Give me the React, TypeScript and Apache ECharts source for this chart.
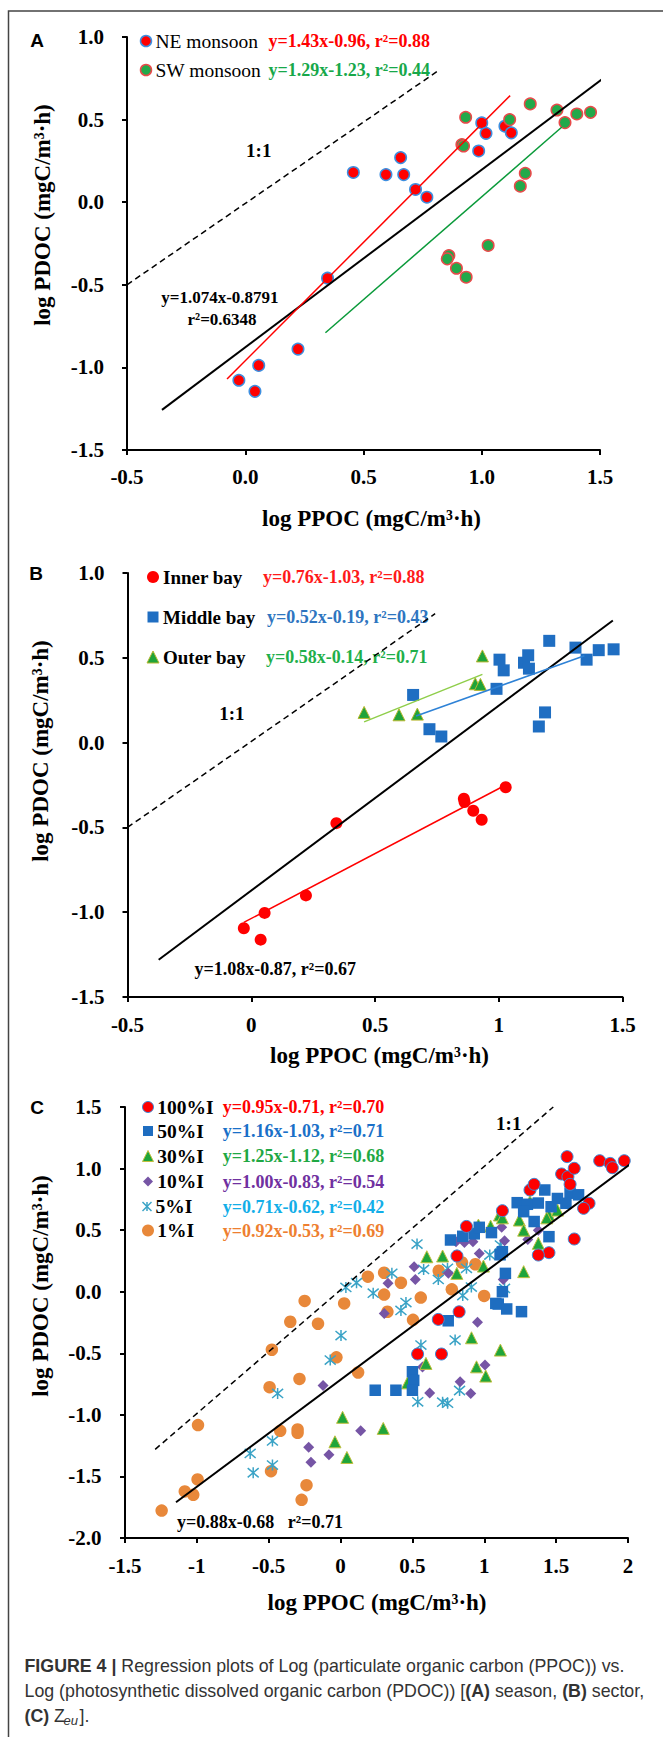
import React, { useEffect, useRef } from "react";
import * as echarts from "echarts";

const W = 663;
const H = 1737;
const SERIF = '"Liberation Serif", "Times New Roman", serif';
const SANS = '"Liberation Sans", Arial, sans-serif';

// ---------- Panel A (season) ----------
const neMonsoon = [
  [0.457, 0.18], [0.595, 0.167], [0.657, 0.27], [0.67, 0.167], [0.72, 0.077], [0.768, 0.03],
  [0.987, 0.31], [1.0, 0.48], [1.018, 0.417], [1.098, 0.46], [1.125, 0.42], [0.348, -0.46],
  [0.223, -0.889], [0.057, -0.988], [-0.027, -1.078], [0.041, -1.145],
];
const swMonsoon = [
  [0.932, 0.514], [0.916, 0.349], [0.923, 0.34], [1.118, 0.5], [1.205, 0.595], [1.318, 0.558],
  [1.352, 0.482], [1.402, 0.534], [1.46, 0.544], [1.184, 0.175], [1.163, 0.097], [1.027, -0.262],
  [0.861, -0.323], [0.854, -0.343], [0.893, -0.4], [0.934, -0.454],
];
const lineAAll = [[-0.352, -1.257], [1.566, 0.806]];
const lineANE = [[-0.077, -1.07], [1.12, 0.645]];
const lineASW = [[0.339, -0.79], [1.339, 0.455]];
const lineA11 = [[-0.5, -0.5], [0.81, 0.79]];

// ---------- Panel B (sector) ----------
const innerBay = [
  [0.344, -0.475], [1.028, -0.263], [0.859, -0.331], [0.862, -0.35], [0.897, -0.402],
  [0.931, -0.455], [0.221, -0.901], [0.054, -1.004], [-0.03, -1.095], [0.038, -1.162],
];
const middleBay = [
  [0.654, 0.281], [0.72, 0.079], [0.768, 0.036], [0.991, 0.317], [1.003, 0.489], [1.02, 0.426],
  [1.102, 0.471], [1.119, 0.515], [1.122, 0.436], [1.204, 0.6], [1.187, 0.178], [1.162, 0.095],
  [1.31, 0.56], [1.355, 0.489], [1.404, 0.545], [1.464, 0.55],
];
const outerBay = [
  [0.456, 0.178], [0.597, 0.164], [0.671, 0.168], [0.934, 0.511], [0.905, 0.347], [0.926, 0.343],
];
const lineBAll = [[-0.374, -1.28], [1.461, 0.72]];
const lineBInner = [[-0.03, -1.06], [1.028, -0.25]];
const lineBMiddle = [[0.666, 0.157], [1.346, 0.512]];
const lineBOuter = [[0.456, 0.122], [0.934, 0.402]];
const lineB11 = [[-0.5, -0.5], [0.743, 0.76]];

// ---------- Panel C (Zeu) ----------
const pct100 = [
  [0.876, 0.53], [1.126, 0.658], [1.318, 0.826], [1.347, 0.872], [1.576, 1.097], [1.538, 0.956],
  [1.582, 0.934], [1.626, 1.002], [1.597, 0.872], [1.803, 1.064], [1.876, 1.042], [1.891, 1.007],
  [1.974, 1.064], [1.729, 0.718], [1.691, 0.677], [1.626, 0.428], [1.45, 0.317], [1.376, 0.298],
  [0.81, 0.29], [0.825, -0.163], [0.68, -0.225], [0.536, -0.506], [0.702, -0.506],
];
const pct50 = [
  [0.765, 0.42], [0.85, 0.45], [0.93, 0.47], [0.965, 0.523], [1.05, 0.48], [1.126, 0.325],
  [1.11, 0.3], [1.147, 0.149], [1.126, 0.0], [1.097, -0.1], [1.156, -0.14], [1.259, -0.162],
  [1.08, -0.095], [0.749, -0.236], [0.5, -0.65], [0.509, -0.72], [0.5, -0.8], [0.241, -0.8],
  [0.385, -0.8], [1.229, 0.723], [1.3, 0.71], [1.421, 0.826], [1.509, 0.757], [1.597, 0.8],
  [1.656, 0.787], [1.568, 0.718], [1.465, 0.69], [1.45, 0.447], [1.347, 0.57], [1.274, 0.65],
  [1.376, 0.72],
];
const pct30 = [
  [1.318, 0.731], [1.106, 0.623], [1.126, 0.6], [1.244, 0.582], [1.274, 0.5], [1.45, 0.623],
  [1.509, 0.663], [1.435, 0.6], [1.376, 0.393], [0.959, 0.541], [1.044, 0.533], [0.6, 0.284],
  [0.71, 0.29], [0.809, 0.149], [0.994, 0.208], [1.274, 0.163], [1.112, -0.474], [0.911, -0.374],
  [0.946, -0.61], [1.01, -0.685], [0.594, -0.582], [0.466, -0.74], [0.014, -1.02], [0.297, -1.11],
  [-0.039, -1.219], [0.044, -1.346],
];
const pct10 = [
  [1.121, 0.523], [1.141, 0.414], [1.303, 0.425], [1.376, 0.5], [0.803, 0.406], [0.862, 0.4],
  [0.921, 0.405], [0.81, 0.3], [0.965, 0.311], [0.512, 0.203], [0.52, 0.1], [0.33, 0.068],
  [0.75, 0.149], [1.132, 0.1], [0.304, -0.176], [0.953, -0.248], [0.57, -0.612], [1.005, -0.596],
  [0.832, -0.731], [0.906, -0.826], [0.62, -0.823], [-0.122, -0.761], [0.14, -1.129],
  [-0.222, -1.264], [-0.206, -1.385], [-0.081, -1.324],
];
const pct5 = [
  [0.532, 0.387], [0.578, 0.181], [0.744, 0.19], [0.876, 0.19], [0.68, 0.1], [1.038, 0.298],
  [1.112, 0.379], [0.91, 0.038], [1.141, 0.027], [0.85, -0.031], [0.357, 0.149], [0.111, 0.073],
  [0.037, 0.035], [0.227, -0.012], [0.455, -0.088], [0.42, -0.152], [0.003, -0.356], [-0.072, -0.555],
  [0.559, -0.433], [0.797, -0.393], [0.537, -0.894], [0.71, -0.897], [0.745, -0.905], [0.828, -0.802],
  [-0.438, -0.826], [-0.474, -1.212], [-0.629, -1.313], [-0.608, -1.47], [-0.474, -1.408],
];
const pct1 = [
  [-0.992, -1.083], [-0.25, -0.075], [-0.35, -0.244], [-0.157, -0.26], [0.025, -0.095],
  [-0.478, -0.471], [-0.029, -0.533], [-0.286, -0.708], [-0.494, -0.775], [0.122, -0.656],
  [-0.42, -1.13], [-0.299, -1.118], [-0.299, -1.146], [0.19, 0.122], [0.303, 0.154], [0.303, -0.023],
  [0.42, 0.073], [0.326, -0.163], [0.504, -0.228], [0.558, -0.048], [0.683, 0.17], [0.774, 0.019],
  [0.845, 0.237], [0.938, 0.223], [0.999, -0.034], [-1.245, -1.777], [-1.084, -1.622],
  [-1.025, -1.649], [-0.995, -1.524], [-0.484, -1.457], [-0.237, -1.571], [-0.271, -1.69],
];
const lineCAll = [[-1.145, -1.71], [2.03, 1.05]];
const lineC11 = [[-1.29, -1.28], [1.48, 1.5]];

// ---------- legends / labels ----------
const legendA = [
  { name: "NE monsoon", eq: "y=1.43x-0.96, r²=0.88", eqColor: "#ff0000" },
  { name: "SW monsoon", eq: "y=1.29x-1.23, r²=0.44", eqColor: "#17a84a" },
];
const legendB = [
  { name: "Inner bay", eq: "y=0.76x-1.03, r²=0.88", eqColor: "#ff1a1a" },
  { name: "Middle bay", eq: "y=0.52x-0.19, r²=0.43", eqColor: "#2e75c0" },
  { name: "Outer bay", eq: "y=0.58x-0.14, r²=0.71", eqColor: "#1faf4a" },
];
const legendC = [
  { name: "100%I", eq: "y=0.95x-0.71, r²=0.70", eqColor: "#ff0000" },
  { name: "50%I", eq: "y=1.16x-1.03, r²=0.71", eqColor: "#1a70c8" },
  { name: "30%I", eq: "y=1.25x-1.12, r²=0.68", eqColor: "#1fa844" },
  { name: "10%I", eq: "y=1.00x-0.83, r²=0.54", eqColor: "#7030a0" },
  { name: "5%I", eq: "y=0.71x-0.62, r²=0.42", eqColor: "#12aee8" },
  { name: "1%I", eq: "y=0.92x-0.53, r²=0.69", eqColor: "#ee7f30" },
];
const axisTitleX = "log PPOC (mgC/m³·h)";
const axisTitleY = "log PDOC (mgC/m³·h)";

// grid geometry
const GA = { left: 127, top: 37, width: 473, height: 413, xMin: -0.5, xMax: 1.5, yMin: -1.5, yMax: 1.0 };
const GB = { left: 127.5, top: 573, width: 495, height: 424, xMin: -0.5, xMax: 1.5, yMin: -1.5, yMax: 1.0 };
const GC = { left: 125, top: 1107, width: 503, height: 431, xMin: -1.5, xMax: 2.0, yMin: -2.0, yMax: 1.5 };

function toPx(g: any, x: number, y: number) {
  return [
    g.left + ((x - g.xMin) / (g.xMax - g.xMin)) * g.width,
    g.top + ((g.yMax - y) / (g.yMax - g.yMin)) * g.height,
  ];
}

const fmt1 = (v: number) => (Math.round(v * 10) / 10).toFixed(1);
const fmtN = (v: number) => String(Math.round(v * 10) / 10);

function axisOf(g: any, gi: number, isX: boolean, formatter: any, margin: number) {
  return {
    type: "value", gridIndex: gi,
    min: isX ? g.xMin : g.yMin, max: isX ? g.xMax : g.yMax, interval: 0.5,
    axisLine: { show: true, onZero: false, lineStyle: { color: "#000", width: 2 } },
    axisTick: { show: true, inside: false, length: 5, lineStyle: { color: "#000", width: 2 } },
    splitLine: { show: false },
    axisLabel: { color: "#000", fontFamily: SERIF, fontWeight: "bold", fontSize: 21, margin, formatter },
  };
}

function sc(data: any, gi: number, symbol: string, size: number, color: string, border?: string, bw?: number) {
  return {
    type: "scatter", xAxisIndex: gi, yAxisIndex: gi, data, symbol, symbolSize: size, silent: true,
    itemStyle: { color, borderColor: border || color, borderWidth: bw || 0, opacity: 1 },
  };
}
function ln(data: any, gi: number, color: string, width: number, type: any = "solid") {
  return {
    type: "line", xAxisIndex: gi, yAxisIndex: gi, data, symbol: "none", silent: true, clip: false,
    lineStyle: { color, width, type },
  };
}

function T(x: number, y: number, text: string, size: number, color = "#000", weight = "bold", align = "center", family = SERIF, extra: any = {}) {
  return {
    type: "text", x, y, silent: true, ...extra,
    style: {
      text, fill: color, fontSize: size, fontWeight: weight, fontFamily: family,
      align, verticalAlign: "middle", textAlign: align, textVerticalAlign: "middle",
    },
  };
}
const circ = (cx: number, cy: number, r: number, fill: string, stroke?: string, lw = 1.5) => ({
  type: "circle", silent: true, shape: { cx, cy, r }, style: { fill, stroke: stroke || fill, lineWidth: stroke ? lw : 0 },
});
const sq = (cx: number, cy: number, s: number, fill: string) => ({
  type: "rect", silent: true, shape: { x: cx - s / 2, y: cy - s / 2, width: s, height: s }, style: { fill },
});
const tri = (cx: number, cy: number, s: number, fill: string, stroke: string) => ({
  type: "polygon", silent: true,
  shape: { points: [[cx, cy - s / 2], [cx + s / 2, cy + s / 2], [cx - s / 2, cy + s / 2]] },
  style: { fill, stroke, lineWidth: 1 },
});
const dia = (cx: number, cy: number, s: number, fill: string) => ({
  type: "polygon", silent: true,
  shape: { points: [[cx, cy - s / 2], [cx + s / 2, cy], [cx, cy + s / 2], [cx - s / 2, cy]] },
  style: { fill },
});
const ast = (cx: number, cy: number, s: number, color: string) => {
  const h = s / 2;
  const segs = [
    [cx - h, cy - h, cx + h, cy + h], [cx + h, cy - h, cx - h, cy + h], [cx, cy - h, cx, cy + h],
  ];
  return {
    type: "group", silent: true,
    children: segs.map((p) => ({
      type: "line", shape: { x1: p[0], y1: p[1], x2: p[2], y2: p[3] }, style: { stroke: color, lineWidth: 1.5 },
    })),
  };
};

const ASTERISK = "path://M0,0L10,10M10,0L0,10M5,-1L5,11";

export default function App() {
  const ref = useRef<HTMLDivElement>(null);
  useEffect(() => {
    document.body.style.margin = "0";
    const chart = echarts.init(ref.current!, null, { renderer: "svg", width: W, height: H });

    const graphic: any[] = [];
    // frame
    graphic.push({ type: "rect", silent: true, z: -10, shape: { x: 8.5, y: 11, width: 720, height: 1800 }, style: { fill: "none", stroke: "#444", lineWidth: 1.5 } });
    // panel letters
    graphic.push(T(37, 40, "A", 19, "#000", "bold", "center", SANS));
    graphic.push(T(36, 573, "B", 19, "#000", "bold", "center", SANS));
    graphic.push(T(37, 1107, "C", 19, "#000", "bold", "center", SANS));
    // axis titles
    graphic.push(T(42, 215, axisTitleY, 23, "#000", "bold", "center", SERIF, { rotation: Math.PI / 2 }));
    graphic.push(T(40, 751, axisTitleY, 23, "#000", "bold", "center", SERIF, { rotation: Math.PI / 2 }));
    graphic.push(T(40, 1286, axisTitleY, 23, "#000", "bold", "center", SERIF, { rotation: Math.PI / 2 }));
    graphic.push(T(371.5, 518, axisTitleX, 23));
    graphic.push(T(379.5, 1055, axisTitleX, 23));
    graphic.push(T(377, 1602, axisTitleX, 23));

    // Panel A legend
    const aRows = [41, 70];
    graphic.push(circ(146, aRows[0], 5.5, "#ff0000", "#3d8fe0"));
    graphic.push(circ(146, aRows[1], 5.5, "#22a94a", "#e84a4a"));
    legendA.forEach((l, i) => {
      graphic.push(T(155.5, aRows[i], l.name, 19.5, "#000", "normal", "left"));
      graphic.push(T(268.5, aRows[i], l.eq, 18, l.eqColor, "bold", "left"));
    });
    // Panel A annotations
    let p = toPx(GA, 0.057, 0.31);
    graphic.push(T(p[0], p[1], "1:1", 19));
    p = toPx(GA, -0.107, -0.575);
    graphic.push(T(p[0], p[1], "y=1.074x-0.8791", 17));
    p = toPx(GA, -0.098, -0.71);
    graphic.push(T(p[0], p[1], "r²=0.6348", 17));

    // Panel B legend
    const bRows = [577, 617, 657];
    const bEqX = [263, 267, 266];
    graphic.push(circ(153, bRows[0], 6, "#ff0000"));
    graphic.push(sq(153, bRows[1], 11, "#1f6ec2"));
    graphic.push(tri(153, bRows[2], 12, "#1fa33a", "#b8b830"));
    legendB.forEach((l, i) => {
      graphic.push(T(163, bRows[i], l.name, 19, "#000", "bold", "left"));
      graphic.push(T(bEqX[i], bRows[i], l.eq, 18, l.eqColor, "bold", "left"));
    });
    p = toPx(GB, -0.078, 0.172);
    graphic.push(T(p[0], p[1], "1:1", 19));
    p = toPx(GB, 0.097, -1.337);
    graphic.push(T(p[0], p[1], "y=1.08x-0.87, r²=0.67", 18));

    // Panel C legend
    const cRows = [1107, 1131, 1156, 1181.5, 1206.5, 1230.5];
    graphic.push(circ(148, cRows[0], 5.5, "#ff0000", "#3a8ad8", 1));
    graphic.push(sq(148, cRows[1], 10, "#1e6dc0"));
    graphic.push(tri(148, cRows[2], 11, "#1fa53a", "#c0c040"));
    graphic.push(dia(148, cRows[3], 10, "#7655a5"));
    graphic.push(ast(147, cRows[4], 9, "#3aa3c6"));
    graphic.push(circ(148, cRows[5], 6, "#e8883a"));
    legendC.forEach((l, i) => {
      graphic.push(T(i === 4 ? 155.5 : 157.3, cRows[i], l.name, 19.5, "#000", "bold", "left"));
      graphic.push(T(222.8, cRows[i], l.eq, 18, l.eqColor, "bold", "left"));
    });
    p = toPx(GC, 1.17, 1.37);
    graphic.push(T(p[0], p[1], "1:1", 19));
    p = toPx(GC, -1.138, -1.868);
    graphic.push(T(p[0], p[1], "y=0.88x-0.68   r²=0.71", 18, "#000", "bold", "left"));

    // caption
    const CAP = 17.8;
    const capStyle = (text: string, rich: any) => ({
      text, rich, fill: "#333", fontSize: CAP, fontFamily: SANS, align: "left", verticalAlign: "middle",
      textAlign: "left", textVerticalAlign: "middle",
    });
    const rich = {
      b: { fontWeight: "bold", fontSize: CAP, fontFamily: SANS, fill: "#333", color: "#333" },
      n: { fontWeight: "normal", fontSize: CAP, fontFamily: SANS, fill: "#333", color: "#333" },
    };
    graphic.push({ type: "text", x: 24.5, y: 1666, silent: true, style: capStyle("{b|FIGURE 4 |}{n| Regression plots of Log (particulate organic carbon (PPOC)) vs.}", rich) });
    graphic.push({ type: "text", x: 24.5, y: 1691, silent: true, style: capStyle("{n|Log (photosynthetic dissolved organic carbon (PDOC)) [}{b|(A)}{n| season, }{b|(B)}{n| sector,}", rich) });
    graphic.push({ type: "text", x: 24.5, y: 1716, silent: true, style: capStyle("{b|(C)}{n| Z}", rich) });
    graphic.push({ type: "text", x: 63.5, y: 1720, silent: true, style: { text: "eu", fill: "#333", fontSize: 13, fontStyle: "italic", fontFamily: SANS, align: "left", verticalAlign: "middle", textAlign: "left", textVerticalAlign: "middle" } });
    graphic.push({ type: "text", x: 79.5, y: 1716, silent: true, style: { text: "].", fill: "#333", fontSize: CAP, fontFamily: SANS, align: "left", verticalAlign: "middle", textAlign: "left", textVerticalAlign: "middle" } });

    const dashed = [6, 4];
    const option: any = {
      animation: false,
      backgroundColor: "#fff",
      grid: [
        { left: GA.left, top: GA.top, width: GA.width, height: GA.height },
        { left: GB.left, top: GB.top, width: GB.width, height: GB.height },
        { left: GC.left, top: GC.top, width: GC.width, height: GC.height },
      ],
      xAxis: [axisOf(GA, 0, true, fmt1, 16), axisOf(GB, 1, true, fmtN, 17), axisOf(GC, 2, true, fmtN, 17)],
      yAxis: [axisOf(GA, 0, false, fmt1, 23), axisOf(GB, 1, false, fmt1, 23), axisOf(GC, 2, false, fmt1, 23.5)],
      series: [
        // A
        sc(neMonsoon, 0, "circle", 11.5, "#ff0000", "#3d8fe0", 1.5),
        sc(swMonsoon, 0, "circle", 11.5, "#22a94a", "#e84a4a", 1.5),
        ln(lineA11, 0, "#000", 1.5, dashed),
        ln(lineAAll, 0, "#000", 2),
        ln(lineANE, 0, "#ff0000", 1.5),
        ln(lineASW, 0, "#0a9a3a", 1.5),
        // B
        sc(innerBay, 1, "circle", 12, "#ff0000"),
        sc(middleBay, 1, "rect", 12, "#1f6ec2"),
        sc(outerBay, 1, "triangle", 12, "#1fa33a", "#b8b830", 1),
        ln(lineB11, 1, "#000", 1.5, dashed),
        ln(lineBAll, 1, "#000", 2),
        ln(lineBInner, 1, "#ff0000", 1.5),
        ln(lineBMiddle, 1, "#2e82d6", 1.5),
        ln(lineBOuter, 1, "#8fce4a", 1.5),
        // C
        sc(pct1, 2, "circle", 12.5, "#e8883a"),
        sc(pct5, 2, ASTERISK, 11, "#3aa3c6", "#3aa3c6", 1.5),
        sc(pct10, 2, "diamond", 11, "#7655a5"),
        sc(pct30, 2, "triangle", 12, "#1fa53a", "#c0c040", 1),
        sc(pct50, 2, "rect", 11.5, "#1e6dc0"),
        sc(pct100, 2, "circle", 12, "#ff0000", "#3a8ad8", 1),
        ln(lineC11, 2, "#000", 1.5, dashed),
        ln(lineCAll, 2, "#000", 2),
      ],
      graphic,
    };
    chart.setOption(option);
    return () => chart.dispose();
  }, []);
  return <div ref={ref} style={{ width: W, height: H }} />;
}
